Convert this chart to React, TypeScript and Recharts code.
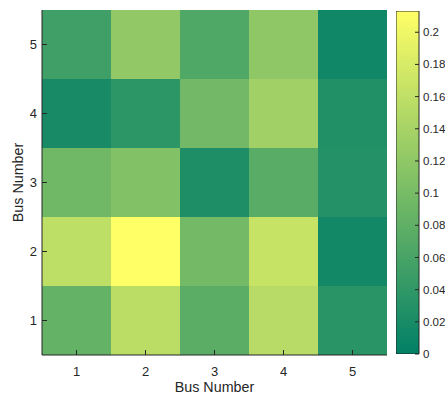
import React from 'react';
import { BarChart, Bar, XAxis, YAxis, Cell } from 'recharts';

// Heatmap values: each array is one y "Bus Number" row, indexed by x Bus Number 1..5
const busNumbers = [1, 2, 3, 4, 5];
const yBus1 = [0.084, 0.156, 0.076, 0.153, 0.034];
const yBus2 = [0.159, 0.2132, 0.096, 0.166, 0.015];
const yBus3 = [0.094, 0.109, 0.025, 0.074, 0.030];
const yBus4 = [0.020, 0.038, 0.095, 0.134, 0.028];
const yBus5 = [0.053, 0.122, 0.067, 0.120, 0.013];
const rows = [yBus1, yBus2, yBus3, yBus4, yBus5];
const yTickLabels = ['1', '2', '3', '4', '5'];
const yTickPositions = [0.5, 1.5, 2.5, 3.5, 4.5];
const colorbarTicks = [0, 0.02, 0.04, 0.06, 0.08, 0.1, 0.12, 0.14, 0.16, 0.18, 0.2];
const colorMax = 0.2132;

const FONT = '"Liberation Sans", Arial, Helvetica, sans-serif';
const INK = '#262626';

function summer(v: number): string {
  const t = Math.max(0, Math.min(1, v / colorMax));
  const r = Math.round(255 * t);
  const g = Math.round(127.5 + 127.5 * t);
  return `rgb(${r},${g},102)`;
}

const heatData = busNumbers.map((bus) => {
  const o: Record<string, number> = { bus };
  rows.forEach((_, r) => {
    o[`y${r + 1}`] = 1;
  });
  return o;
});

const colorbarData = [{ name: 'cb', v: colorMax }];

const YLabel = (props: any) => {
  const vb = props.viewBox || {};
  const cx = vb.x + 18.3;
  const cy = vb.y + vb.height / 2;
  return (
    <text
      x={cx}
      y={cy}
      transform={`rotate(-90 ${cx} ${cy})`}
      textAnchor="middle"
      dominantBaseline="central"
      fill={INK}
      fontSize={14.3}
      fontFamily={FONT}
    >
      Bus Number
    </text>
  );
};

export default function App() {
  return (
    <div
      style={{
        position: 'absolute',
        left: 0,
        top: 0,
        width: 445,
        height: 394,
        overflow: 'hidden',
        background: '#fff',
        fontFamily: FONT,
      }}
    >
      <div style={{ position: 'absolute', left: 0, top: 0 }}>
        <BarChart
          width={445}
          height={394}
          data={heatData}
          margin={{ top: 10, right: 58, bottom: 0, left: 0 }}
          barCategoryGap={0}
          barGap={0}
        >
          {rows.map((row, r) => (
            <Bar
              key={r}
              dataKey={`y${r + 1}`}
              stackId="heat"
              isAnimationActive={false}
            >
              {row.map((v, i) => (
                <Cell key={i} fill={summer(v)} />
              ))}
            </Bar>
          ))}
          <XAxis
            dataKey="bus"
            type="category"
            height={39}
            tickSize={-5}
            tickMargin={16.5}
            axisLine={{ stroke: INK }}
            tickLine={{ stroke: INK }}
            tick={{ fill: INK, fontSize: 13, fontFamily: FONT }}
            label={{
              value: 'Bus Number',
              position: 'insideBottom',
              offset: 2.5,
              fill: INK,
              fontSize: 14.3,
              fontFamily: FONT,
            }}
          />
          <YAxis
            type="number"
            domain={[0, 5]}
            ticks={yTickPositions}
            tickFormatter={(v: number) => yTickLabels[Math.round(v - 0.5)]}
            width={42}
            tickSize={-5}
            tickMargin={10}
            axisLine={{ stroke: INK }}
            tickLine={{ stroke: INK }}
            tick={{ fill: INK, fontSize: 13, fontFamily: FONT }}
            label={<YLabel />}
            allowDataOverflow
          />
        </BarChart>
      </div>
      <div style={{ position: 'absolute', left: 396, top: 0 }}>
        <BarChart
          width={89}
          height={394}
          data={colorbarData}
          margin={{ top: 11, right: 40, bottom: 40, left: 0 }}
          barCategoryGap={0}
        >
          <defs>
            <linearGradient id="summerGrad" x1="0" y1="1" x2="0" y2="0">
              <stop offset="0%" stopColor="rgb(0,128,102)" />
              <stop offset="100%" stopColor="rgb(255,255,102)" />
            </linearGradient>
          </defs>
          <Bar
            dataKey="v"
            fill="url(#summerGrad)"
            stroke={INK}
            strokeWidth={1}
            isAnimationActive={false}
          />
          <XAxis dataKey="name" hide />
          <YAxis
            orientation="right"
            type="number"
            domain={[0, colorMax]}
            ticks={colorbarTicks}
            tickFormatter={(v: number) => String(+v.toFixed(2))}
            width={26}
            tickSize={-4}
            tickMargin={8}
            axisLine={false}
            tickLine={{ stroke: INK }}
            tick={{ fill: INK, fontSize: 11.5, fontFamily: FONT, textAnchor: 'start' }}
            allowDataOverflow
            interval={0}
          />
        </BarChart>
      </div>
    </div>
  );
}
